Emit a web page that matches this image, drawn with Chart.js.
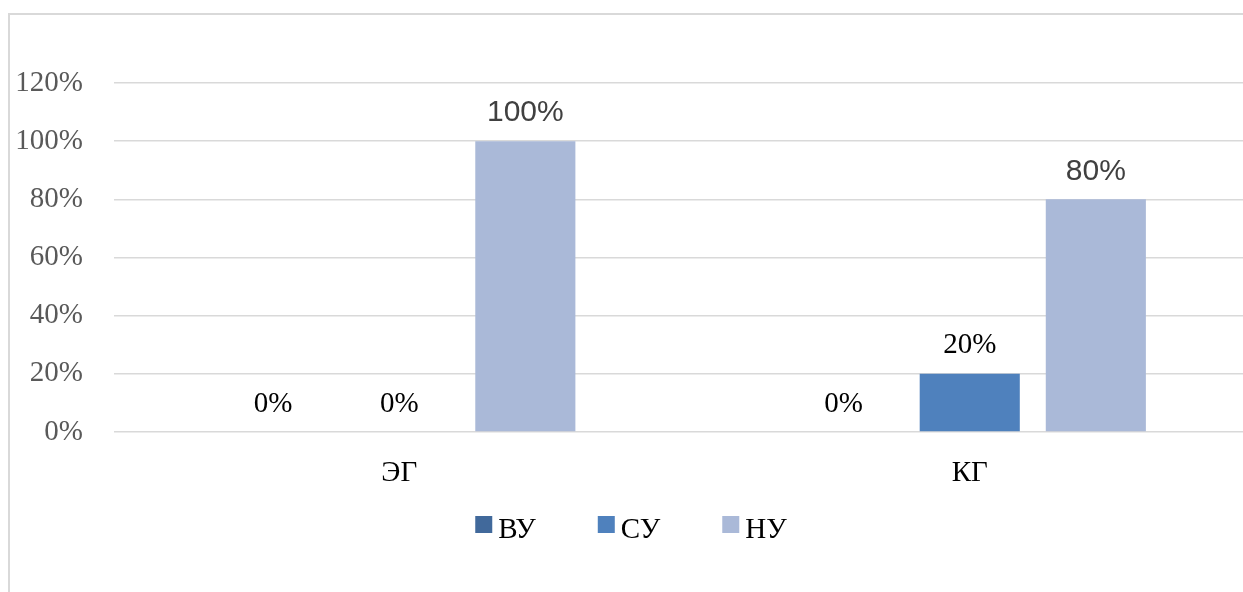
<!DOCTYPE html>
<html>
<head>
<meta charset="utf-8">
<script src="https://cdn.jsdelivr.net/npm/chart.js@4"></script>
<style>
  html, body { margin: 0; padding: 0; background: #fff; overflow: hidden; }
  #frame {
    position: absolute; left: 8px; top: 13px; width: 1300px; height: 700px;
    border: 2px solid #d9d9d9; box-sizing: border-box;
  }
  #wrap { position: absolute; left: 0; top: 0; width: 1270px; height: 592px; }
</style>
</head>
<body>
<div id="frame"></div>
<div id="wrap"><canvas id="myChart"></canvas></div>
<script>
// данные
const categories = ['ЭГ', 'КГ'];
const seriesNames = ['ВУ', 'СУ', 'НУ'];
const valuesVU = [0, 0];
const valuesSU = [0, 20];
const valuesNU = [100, 80];
const yTicks = [0, 20, 40, 60, 80, 100, 120];

const SERIF = '"Liberation Serif", "Times New Roman", serif';
const SANS = '"Liberation Sans", Arial, sans-serif';

// подписи значений над столбцами
const valueLabels = {
    id: 'valueLabels',
    afterDatasetsDraw(chart) {
        const c = chart.ctx;
        chart.data.datasets.forEach((ds, i) => {
            const meta = chart.getDatasetMeta(i);
            meta.data.forEach((bar, j) => {
                const v = ds.data[j];
                c.save();
                if (i === 2) {
                    c.font = '30px ' + SANS;
                    c.fillStyle = '#404040';
                } else {
                    c.font = '29px ' + SERIF;
                    c.fillStyle = '#000';
                }
                c.textAlign = 'center';
                c.textBaseline = 'middle';
                c.fillText(v + '%', bar.x, bar.y - 28);
                c.restore();
            });
        });
    }
};

// легенда внизу (свой рисунок, чтобы расстояния были как в оригинале)
const bottomLegend = {
    id: 'bottomLegend',
    afterDraw(chart) {
        const c = chart.ctx;
        const box = 17, gap = 6, spacing = 62;
        c.save();
        c.font = '29px ' + SERIF;
        c.textBaseline = 'middle';
        const items = chart.data.datasets.map(ds => ({
            text: ds.label,
            color: ds.backgroundColor,
            w: box + gap + c.measureText(ds.label).width
        }));
        const total = items.reduce((s, it) => s + it.w, 0) + spacing * (items.length - 1);
        let x = chart.width / 2 - total / 2 - 4;
        const y = chart.chartArea.bottom + 98;
        items.forEach(it => {
            c.fillStyle = it.color;
            c.fillRect(x, y - 14, box, box);
            c.fillStyle = '#000';
            c.fillText(it.text, x + box + gap, y);
            x += it.w + spacing;
        });
        c.restore();
    }
};

const ctx = document.getElementById('myChart');

new Chart(ctx, {
    type: 'bar',
    data: {
        labels: categories,
        datasets: [
            { label: seriesNames[0], data: valuesVU, backgroundColor: '#41699b' },
            { label: seriesNames[1], data: valuesSU, backgroundColor: '#4f81bd' },
            { label: seriesNames[2], data: valuesNU, backgroundColor: '#aab9d8' }
        ]
    },
    options: {
        responsive: true,
        maintainAspectRatio: false,
        animation: false,
        events: [],
        datasets: {
            bar: { barPercentage: 0.794, categoryPercentage: 0.663 }
        },
        layout: { padding: { left: 0, top: 83, right: 15, bottom: 100 } },
        plugins: {
            legend: { display: false },
            tooltip: { enabled: false }
        },
        scales: {
            x: {
                grid: { display: false },
                border: { display: false },
                ticks: { color: '#000', font: { family: SERIF, size: 29 }, padding: 16 },
                afterFit: (s) => { s.height = 60; }
            },
            y: {
                min: 0,
                max: 120,
                afterBuildTicks: (s) => { s.ticks = yTicks.map(v => ({ value: v })); },
                grid: { color: '#d9d9d9', lineWidth: 1.5, drawTicks: false },
                border: { display: false },
                ticks: {
                    color: '#595959',
                    font: { family: SERIF, size: 29 },
                    padding: 31,
                    callback: (v) => v + '%'
                },
                afterFit: (s) => { s.width = 114; }
            }
        }
    },
    plugins: [valueLabels, bottomLegend]
});
</script>
</body>
</html>
